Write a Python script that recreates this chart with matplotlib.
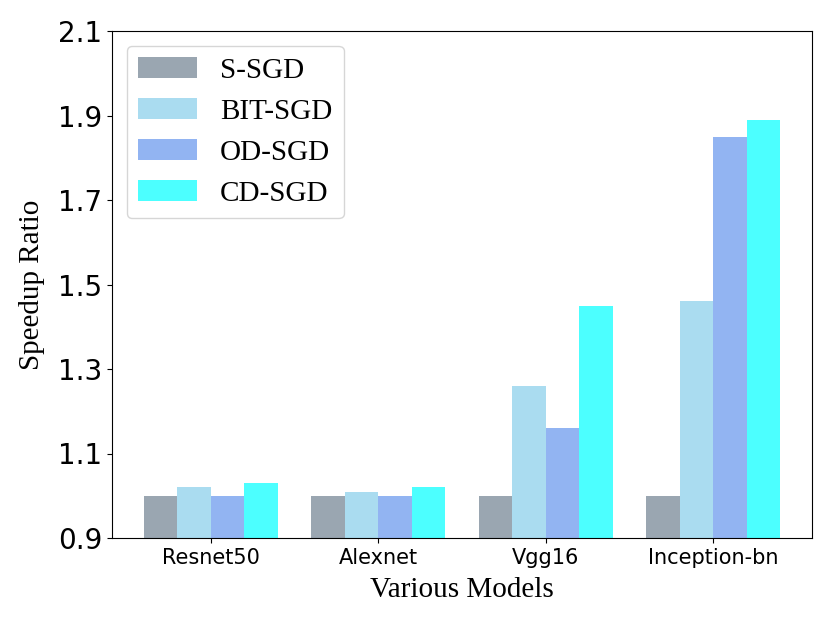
import matplotlib
matplotlib.use("Agg")
import matplotlib.pyplot as plt
import numpy as np

models = ["Resnet50", "Alexnet", "Vgg16", "Inception-bn"]
series_names = ["S-SGD", "BIT-SGD", "OD-SGD", "CD-SGD"]
s_sgd = [1.0, 1.0, 1.0, 1.0]
bit_sgd = [1.02, 1.01, 1.26, 1.46]
od_sgd = [1.0, 1.0, 1.16, 1.85]
cd_sgd = [1.03, 1.02, 1.45, 1.89]
colors = ["slategray", "skyblue", "cornflowerblue", "aqua"]
yticks = [0.9, 1.1, 1.3, 1.5, 1.7, 1.9, 2.1]

fig = plt.figure(figsize=(8.31, 6.23), dpi=100)
ax = fig.add_axes([112/831, 85/623, 700/831, 507/623])

x = np.arange(len(models))
w = 0.2
allvals = [s_sgd, bit_sgd, od_sgd, cd_sgd]
for i, (vals, name, c) in enumerate(zip(allvals, series_names, colors)):
    ax.bar(x + (i - 1.5) * w, np.array(vals) - 0.9, w, bottom=0.9,
           color=c, alpha=0.7, label=name)

ax.set_ylim(0.9, 2.1)
ax.set_yticks(yticks)
ax.set_yticklabels([f"{t:.1f}" for t in yticks], fontsize=20)
ax.set_xticks(x)
ax.set_xticklabels(models, fontsize=15)
ax.set_xlabel("Various Models", fontsize=21, family="Liberation Serif", labelpad=7)
ax.set_ylabel("Speedup Ratio", fontsize=21, family="Liberation Serif", labelpad=9)
ax.legend(loc="upper left", prop={"family": "Liberation Serif", "size": 21},
          borderaxespad=0.5)

fig.savefig("out.png", dpi=100)
